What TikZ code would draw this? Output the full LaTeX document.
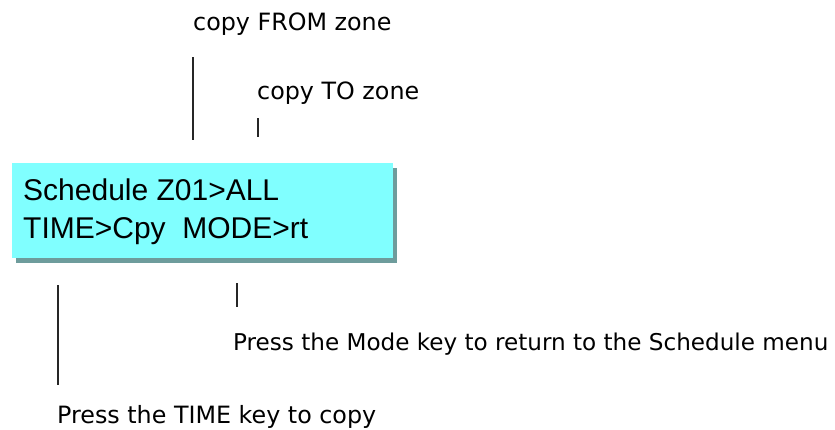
\documentclass[tikz,border=0pt]{standalone}
\usepackage{fontspec}
\usetikzlibrary{shadows}
\newfontfamily\lcdfont{Liberation Sans}
\newfontfamily\notefont{DejaVu Sans}
\definecolor{lcdcyan}{HTML}{80FFFF}
\definecolor{lcdshadow}{HTML}{6E9C9C}
\tikzset{
  note/.style={anchor=base west, inner sep=0pt, font=\notefont\fontsize{23.8}{28}\selectfont},
  lcdtext/.style={anchor=base west, inner sep=0pt, font=\lcdfont\fontsize{30}{38}\selectfont},
  lcdbox/.style={anchor=north west, inner sep=0pt, fill=lcdcyan, draw=none,
    minimum width=381pt, minimum height=95pt,
    general shadow={fill=lcdshadow, shadow xshift=3.5pt, shadow yshift=-5pt}},
  tick/.style={line width=1.6pt, black!85}
}
\begin{document}
\begin{tikzpicture}[x=1pt,y=-1pt]
  \useasboundingbox (0,0) rectangle (835,429);

  % LCD display
  \node[lcdbox] (lcd) at (12,163) {};
  \node[lcdtext] (line1) at (23,200) {Schedule Z01>ALL};
  \node[lcdtext] (line2) at (23,238) {TIME>Cpy\ \ MODE>rt};

  % labels
  \node[note] (from) at (193,30) {copy FROM zone};
  \node[note] (to) at (257,99) {copy TO zone};
  \node[note, font=\notefont\fontsize{23.1}{28}\selectfont] (mode) at (233,350)
    {Press the Mode key to return to the Schedule menu};
  \node[note] (time) at (57,423) {Press the TIME key to copy};

  % pointer marks
  \coordinate (fromA) at (193,57);  \coordinate (fromB) at (193,140);
  \coordinate (toA)   at (258,118); \coordinate (toB)   at (258,137);
  \coordinate (modeA) at (237,283); \coordinate (modeB) at (237,307);
  \coordinate (timeA) at (58,285);  \coordinate (timeB) at (58,385);
  \draw[tick] (fromA) -- (fromB);
  \draw[tick] (toA) -- (toB);
  \draw[tick] (modeA) -- (modeB);
  \draw[tick] (timeA) -- (timeB);
\end{tikzpicture}
\end{document}
